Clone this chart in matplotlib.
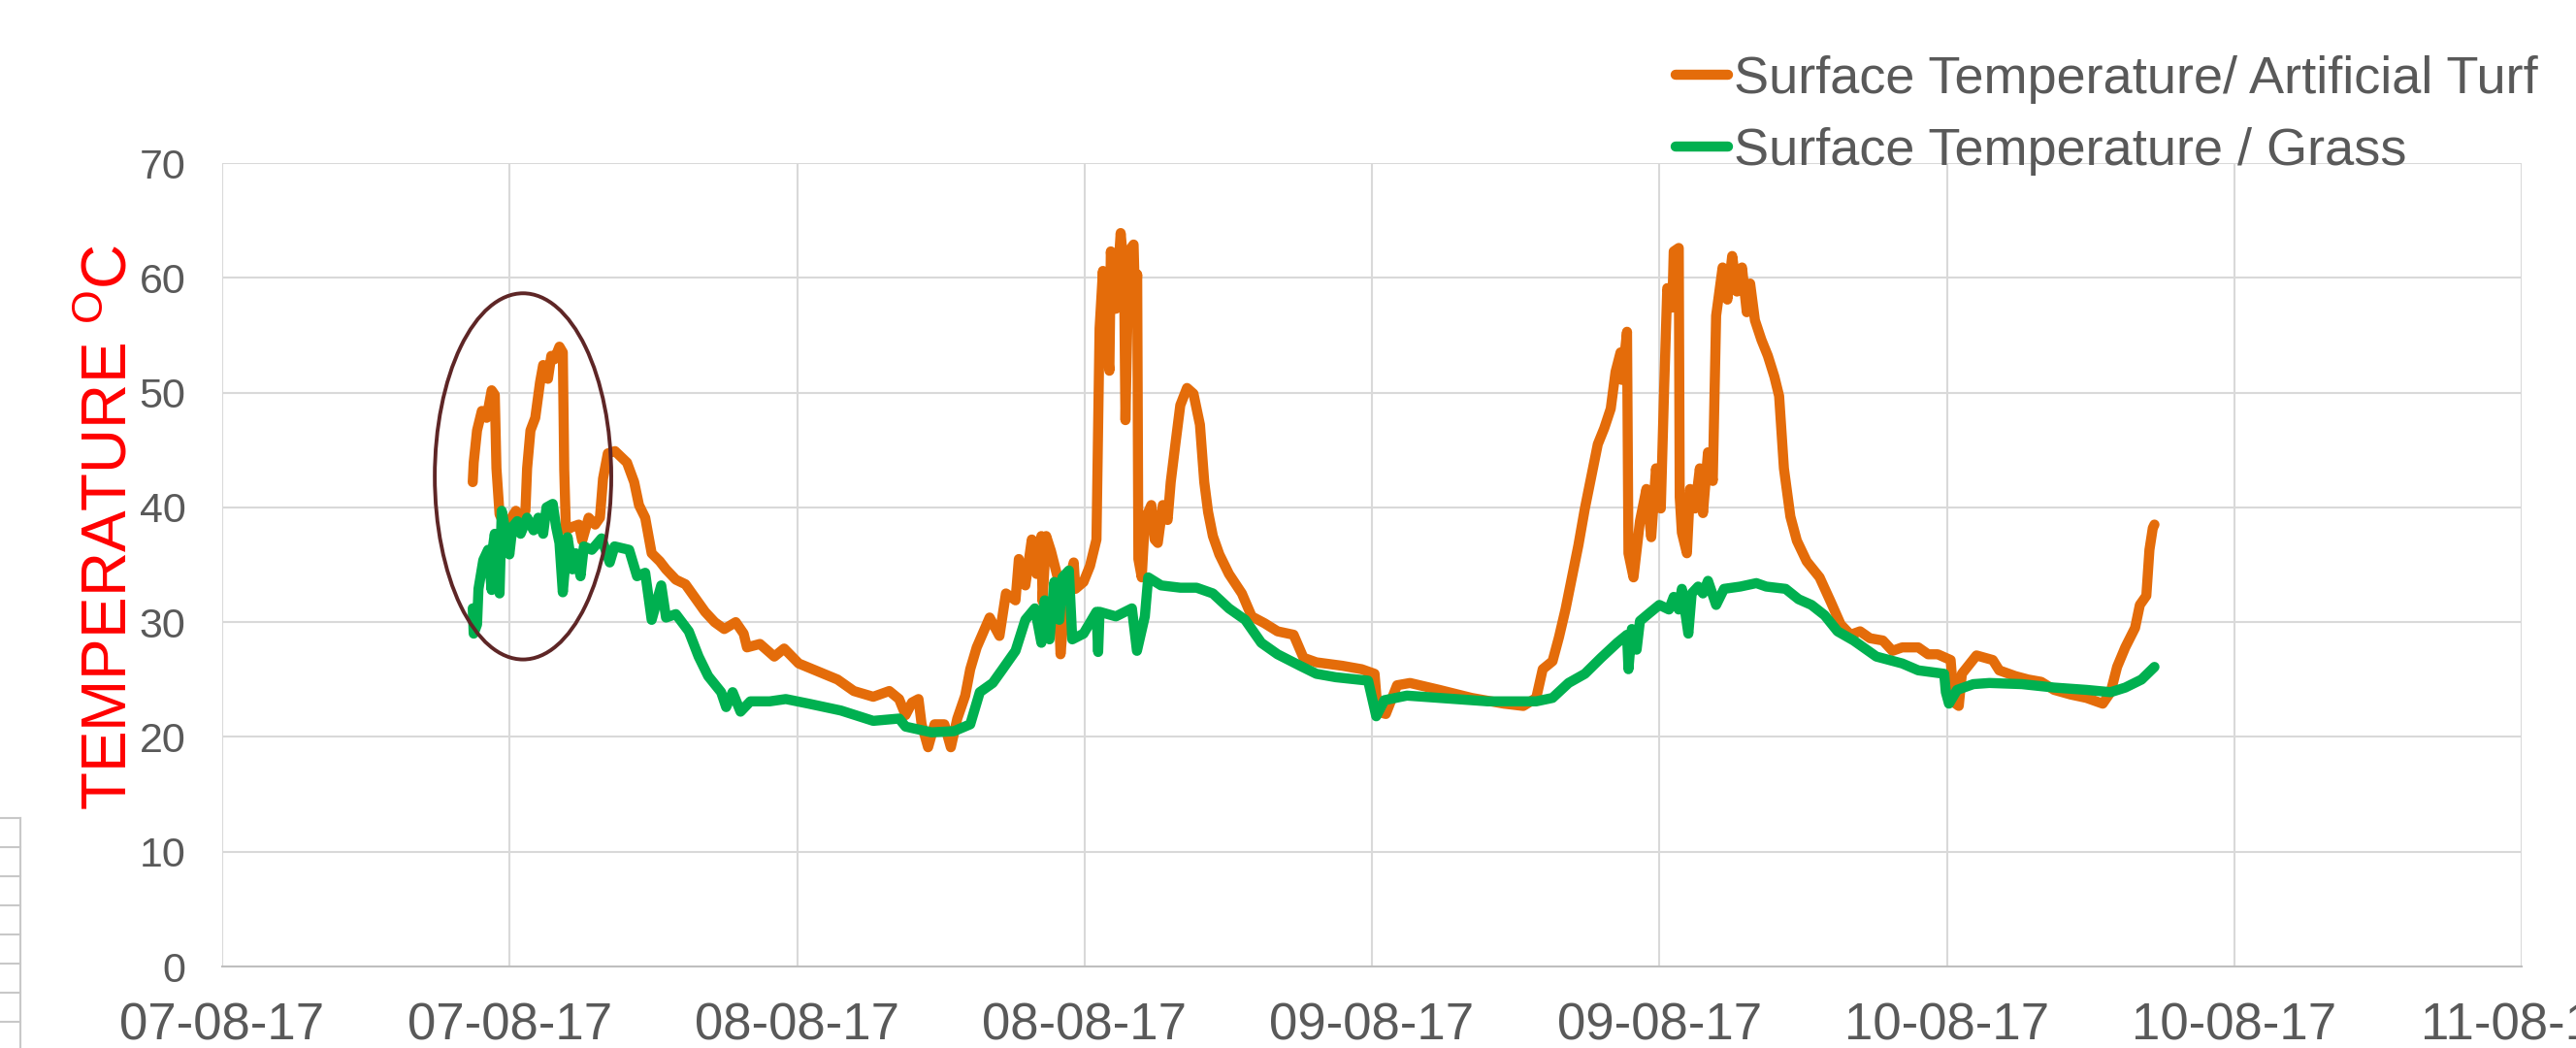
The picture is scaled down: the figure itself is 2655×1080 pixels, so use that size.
import matplotlib
matplotlib.use('Agg')
import matplotlib.pyplot as plt
import matplotlib.dates as mdates
from matplotlib.patches import Ellipse
from matplotlib.lines import Line2D
import pandas as pd

plt.rcParams['font.family'] = ['Liberation Sans', 'DejaVu Sans']
plt.rcParams['mathtext.fontset'] = 'custom'
plt.rcParams['mathtext.rm'] = 'Liberation Sans'

# hours after 07-08-17 00:00, temperature in degC
turf_hours = [10.46, 10.5, 10.64, 10.84, 11.04, 11.25, 11.38, 11.45, 11.58, 11.79, 11.99, 12.26, 12.46,
              12.66, 12.73, 12.87, 13.07, 13.27, 13.4, 13.6, 13.74, 13.87, 14.08, 14.22, 14.28, 14.35,
              14.62, 14.89, 15.03, 15.3, 15.57, 15.77, 15.9, 16.1, 16.4, 16.9, 17.2, 17.4, 17.66, 17.93,
              18.27, 18.53, 18.94, 19.34, 19.75, 20.16, 20.56, 20.96, 21.44, 21.77, 21.91, 22.45, 23.05,
              23.46, 24.07, 24.88, 25.69, 26.37, 27.18, 27.85, 28.26, 28.53, 28.8, 29.07, 29.2, 29.47,
              29.74, 30.15, 30.42, 30.69, 31.02, 31.23, 31.5, 32.04, 32.45, 32.72, 33.12, 33.26, 33.53,
              33.8, 34.0, 34.2, 34.25, 34.4, 34.6, 34.88, 35.0, 35.2, 35.55, 35.62, 35.96, 36.23, 36.5,
              36.63, 36.77, 36.9, 37.04, 37.1, 37.31, 37.51, 37.65, 37.71, 37.85, 38.05, 38.12, 38.2,
              38.25, 38.39, 38.52, 38.79, 38.93, 39.06, 39.27, 39.47, 39.6, 39.8, 40.0, 40.28, 40.55,
              40.82, 41.0, 41.16, 41.36, 41.63, 42.03, 42.57, 42.98, 43.52, 44.06, 44.73, 45.14, 45.68,
              46.76, 47.57, 48.11, 48.24, 48.58, 49.05, 49.59, 50.81, 52.16, 53.51, 54.32, 54.86, 55.13,
              55.54, 55.81, 56.08, 56.35, 56.62, 56.89, 57.16, 57.43, 57.7, 57.97, 58.17, 58.38, 58.44,
              58.65, 58.71, 58.92, 59.19, 59.46, 59.66, 59.86, 60.06, 60.2, 60.33, 60.54, 60.6, 60.81,
              60.85, 60.94, 61.15, 61.28, 61.49, 61.69, 61.82, 62.03, 62.23, 62.37, 62.64, 62.84, 63.04,
              63.24, 63.45, 63.65, 63.79, 63.99, 64.26, 64.53, 64.8, 65.0, 65.2, 65.47, 65.74, 66.15,
              66.69, 67.17, 67.57, 67.98, 68.38, 68.79, 69.33, 69.73, 70.14, 70.81, 71.22, 71.62, 72.16,
              72.3, 72.5, 72.63, 73.24, 73.92, 74.19, 74.86, 75.4, 75.94, 76.48, 77.16, 77.83, 78.51,
              78.84, 79.11, 79.45, 79.86, 80.06, 80.33, 80.46, 80.6, 80.67]
turf_temp = [42.2, 43.9, 46.7, 48.4, 47.8, 50.2, 49.8, 43.4, 39.4, 38.5, 38.8, 39.7, 39.1,
             39.7, 43.4, 46.7, 47.8, 50.9, 52.4, 51.2, 53.2, 52.9, 54.0, 53.5, 43.3, 38.0,
             38.3, 38.5, 37.1, 39.1, 38.5, 39.1, 42.5, 44.7, 44.9, 43.9, 42.2, 40.2, 39.1, 36.0,
             35.3, 34.6, 33.7, 33.3, 32.1, 30.9, 30.0, 29.4, 30.0, 29.0, 27.8, 28.1, 27.0,
             27.7, 26.4, 25.7, 25.0, 24.0, 23.5, 24.0, 23.3, 21.9, 23.0, 23.3, 21.1, 19.1,
             21.1, 21.1, 19.1, 21.6, 23.6, 25.9, 27.8, 30.4, 28.8, 32.5, 31.9, 35.5, 33.2,
             37.2, 34.2, 37.5, 31.8, 37.5, 36.2, 33.9, 27.2, 32.2, 35.2, 32.9, 33.5, 34.9, 37.2,
             55.6, 60.6, 54.9, 51.9, 62.3, 57.3, 63.9, 60.6, 47.6, 62.3, 62.9, 57.3, 60.3,
             35.5, 33.9, 38.9, 40.2, 37.2, 36.9, 40.2, 38.9, 42.2, 45.6, 48.9, 50.4, 49.9,
             47.2, 42.2, 39.6, 37.5, 35.9, 34.2, 32.5, 30.5, 29.9, 29.2, 28.9, 26.9, 26.5,
             26.2, 25.9, 25.5, 22.2, 22.0, 24.5, 24.7, 24.1, 23.4, 22.9, 22.7, 23.4, 25.9,
             26.6, 28.7, 31.1, 33.9, 36.7, 39.9, 42.7, 45.5, 46.9, 48.6, 51.8, 53.5, 51.1,
             55.3, 36.0, 33.9, 38.8, 41.6, 37.4, 43.4, 39.9, 50.4, 59.1, 57.4, 62.3, 62.6,
             40.9, 37.8, 36.0, 41.6, 39.9, 43.4, 39.5, 44.8, 42.3, 56.7, 60.9, 58.1, 61.9,
             58.8, 60.9, 57.0, 59.5, 56.3, 54.6, 53.2, 51.4, 49.7, 43.4, 39.2, 37.1, 35.3,
             33.9, 31.7, 29.8, 28.9, 29.2, 28.6, 28.4, 27.5, 27.8, 27.8, 27.2, 27.2, 26.7,
             23.0, 22.7, 25.5, 27.1, 26.7, 25.8, 25.3, 25.0, 24.8, 24.1, 23.7, 23.4, 22.9,
             23.9, 26.1, 27.8, 29.5, 31.5, 32.3, 36.3, 38.2, 38.5]

grass_hours = [10.46, 10.5, 10.64, 10.7, 10.9, 11.1, 11.25, 11.3, 11.38, 11.58, 11.67, 11.85, 11.99,
               12.12, 12.32, 12.46, 12.73, 13.0, 13.2, 13.4, 13.54, 13.8, 13.94, 14.08, 14.22, 14.42,
               14.62, 14.76, 14.96, 15.1, 15.43, 15.84, 16.18, 16.38, 16.99, 17.32, 17.66, 17.93, 18.33,
               18.53, 18.94, 19.48, 19.89, 20.29, 20.83, 21.04, 21.31, 21.64, 22.05, 22.86, 23.53, 24.48,
               25.83, 27.18, 28.26, 28.53, 29.61, 30.55, 31.23, 31.63, 32.17, 32.58, 33.12, 33.53, 33.93,
               34.2, 34.34, 34.54, 34.74, 34.95, 35.08, 35.35, 35.49, 35.96, 36.5, 36.57, 36.63, 37.31,
               37.98, 38.19, 38.52, 38.66, 39.2, 40.0, 40.68, 41.36, 42.03, 42.71, 43.38, 44.06, 45.0,
               45.68, 46.49, 47.84, 48.18, 48.52, 49.46, 50.81, 52.84, 54.86, 55.54, 56.21, 56.89, 57.57,
               58.24, 58.65, 58.71, 58.85, 59.05, 59.19, 59.59, 60.0, 60.4, 60.6, 60.81, 60.94, 61.21,
               61.35, 61.62, 61.82, 62.03, 62.37, 62.7, 63.38, 64.05, 64.46, 65.27, 65.81, 66.35, 66.9,
               67.44, 68.11, 69.06, 70.14, 70.81, 71.89, 71.96, 72.09, 72.43, 73.11, 73.78, 75.13, 76.48,
               77.83, 78.84, 79.45, 80.13, 80.67]
grass_temp = [31.2, 29.0, 29.8, 32.9, 35.4, 36.3, 32.8, 36.5, 37.7, 32.5, 39.7, 37.7, 35.9,
              38.3, 38.8, 37.7, 39.1, 38.0, 39.1, 37.7, 40.0, 40.3, 38.3, 36.9, 32.6, 37.4,
              34.6, 36.0, 34.0, 36.6, 36.3, 37.3, 35.2, 36.6, 36.3, 34.0, 34.3, 30.2, 33.2,
              30.4, 30.7, 29.2, 27.0, 25.3, 23.9, 22.6, 23.9, 22.2, 23.1, 23.1, 23.3, 22.9,
              22.3, 21.4, 21.6, 20.9, 20.4, 20.5, 21.1, 23.9, 24.7, 25.9, 27.5, 30.2, 31.2,
              28.2, 31.9, 28.5, 33.5, 30.2, 33.9, 34.5, 28.5, 29.0, 30.9, 27.4, 30.9, 30.5,
              31.2, 27.5, 30.5, 33.9, 33.2, 33.0, 33.0, 32.5, 31.2, 30.2, 28.2, 27.2, 26.2,
              25.5, 25.2, 24.9, 21.8, 23.2, 23.6, 23.4, 23.1, 23.1, 23.4, 24.7, 25.5, 26.9,
              28.2, 28.9, 25.9, 29.4, 27.6, 30.1, 30.8, 31.5, 31.1, 32.2, 31.1, 32.9, 29.0,
              32.5, 33.1, 32.5, 33.6, 31.5, 32.9, 33.1, 33.4, 33.1, 32.9, 32.0, 31.5, 30.6,
              29.2, 28.4, 27.0, 26.4, 25.8, 25.5, 23.9, 22.9, 24.1, 24.6, 24.7, 24.6, 24.3,
              24.1, 23.9, 24.3, 25.0, 26.1]

labels = ['Surface Temperature/ Artificial Turf', 'Surface Temperature / Grass']
colors = ['#E46C0A', '#00B050']

start = pd.Timestamp('2017-08-07')
turf_time = start + pd.to_timedelta(turf_hours, unit='h')
grass_time = start + pd.to_timedelta(grass_hours, unit='h')

fig = plt.figure(figsize=(26.55, 10.8), dpi=100)
ax = fig.add_axes([229 / 2655, 84 / 1080, 2370 / 2655, 828 / 1080])

ax.plot(turf_time, turf_temp, color=colors[0], lw=7.5, label=labels[0],
        solid_joinstyle='round', solid_capstyle='round', zorder=3)
ax.plot(grass_time, grass_temp, color=colors[1], lw=7.5, label=labels[1],
        solid_joinstyle='round', solid_capstyle='round', zorder=4)

# highlight of the first day
c = mdates.date2num(start + pd.Timedelta(hours=12.56))
ax.add_patch(Ellipse((c, 42.7), width=0.307, height=31.9, fill=False,
                     edgecolor='#5E2626', lw=2.8, zorder=5))

ax.set_xlim(start, start + pd.Timedelta(days=4))
ax.set_ylim(0, 70)
ax.set_yticks(range(0, 71, 10))
ax.xaxis.set_major_locator(mdates.HourLocator(byhour=[0, 12]))
ax.xaxis.set_major_formatter(mdates.DateFormatter('%d-%m-%y'))

ax.grid(True, color='#D9D9D9', lw=1.5)
ax.set_axisbelow(True)
for s in ['top', 'right', 'left']:
    ax.spines[s].set_visible(False)
ax.spines['bottom'].set_color('#BFBFBF')
ax.spines['bottom'].set_linewidth(1.5)
ax.tick_params(axis='x', length=0, pad=26, labelsize=38, labelcolor='#595959')
ax.tick_params(axis='y', length=0, pad=27, labelsize=31, labelcolor='#595959')

fig.text(113 / 2655, 1 - 543 / 1080, r'TEMPERATURE $^{\mathrm{O}}$C', rotation=90,
         ha='center', va='center', fontsize=46, color='#FF0000')

fig.legend(loc='upper left', bbox_to_anchor=(1727 / 2655, 1 - 57 / 1080), frameon=False,
           fontsize=39, handlelength=1.0, handletextpad=0.1, labelspacing=0.45,
           borderpad=0, borderaxespad=0, labelcolor='#595959')

# edge of a neighbouring table, cut off at the bottom left
fig.add_artist(Line2D([21 / 2655, 21 / 2655], [0, 1 - 843 / 1080], color='#C8C8C8', lw=1.5))
for k in range(8):
    y = 1 - (843 + 30 * k) / 1080
    fig.add_artist(Line2D([0, 21 / 2655], [y, y], color='#C8C8C8', lw=1.5))

fig.savefig('out.png', dpi=100)
